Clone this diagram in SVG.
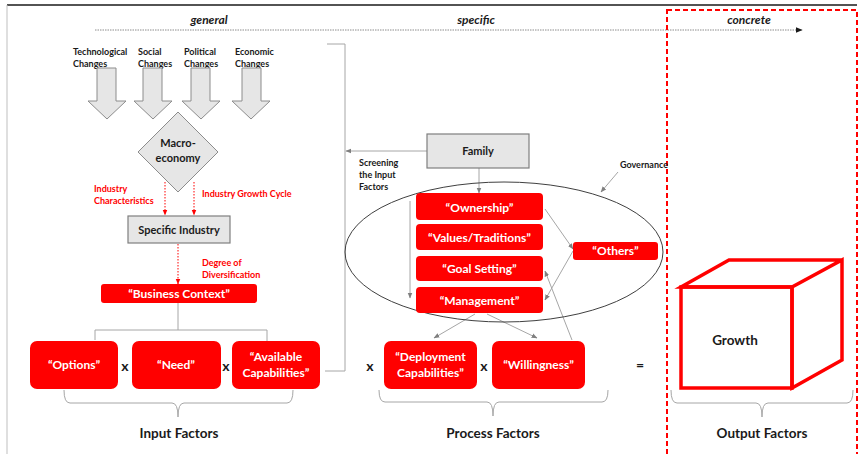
<svg xmlns="http://www.w3.org/2000/svg" width="859" height="454" viewBox="0 0 859 454">
  <style>
    text { font-family: Lato, "Liberation Sans", Arial, sans-serif; font-weight: 700; }
    .lbl { font-size: 9px; fill: #1a1a1a; }
    .red-lbl { font-size: 9px; fill: #ff0000; }
    .hdr { font-size: 12px; font-style: italic; fill: #1a1a1a; text-anchor: middle; }
    .wt { font-size: 12px; fill: #ffffff; text-anchor: middle; }
    .blk { font-size: 11px; fill: #1a1a1a; text-anchor: middle; }
    .big { font-size: 13.5px; fill: #1a1a1a; text-anchor: middle; }
    .op { font-size: 14px; fill: #1a1a1a; text-anchor: middle; }
    .redbox { fill: #ff0000; }
    .graybox { fill: #e6e6e6; stroke: #7f7f7f; stroke-width: 1.2; }
    .blockarrow { fill: #e6e6e6; stroke: #8c8c8c; stroke-width: 1; }
    .conn { fill: none; stroke: #a6a6a6; stroke-width: 1; }
    .reddot { fill: none; stroke: #ff0000; stroke-width: 1; stroke-dasharray: 1.5 1.5; }
    .brace { fill: none; stroke: #a6a6a6; stroke-width: 1; }
  </style>
  <defs>
    <marker id="ah-gray" viewBox="0 0 10 10" refX="9" refY="5" markerWidth="6" markerHeight="6" orient="auto">
      <path d="M0,1 L10,5 L0,9 Z" fill="#7f7f7f"/>
    </marker>
    <marker id="ah-red" viewBox="0 0 10 10" refX="9" refY="5" markerWidth="6" markerHeight="6" orient="auto">
      <path d="M0,1 L10,5 L0,9 Z" fill="#ff0000"/>
    </marker>
    <marker id="ah-black" viewBox="0 0 10 10" refX="9" refY="5" markerWidth="7" markerHeight="7" orient="auto">
      <path d="M0,1 L10,5 L0,9 Z" fill="#1a1a1a"/>
    </marker>
  </defs>

  <rect width="859" height="454" fill="#ffffff"/>

  <!-- frame -->
  <line x1="7" y1="5" x2="857" y2="5" stroke="#1a1a1a" stroke-width="1.5"/>
  <line x1="7" y1="5" x2="7" y2="454" stroke="#bfbfbf" stroke-width="1"/>

  <!-- abstraction axis -->
  <g id="axis">
    <line x1="95" y1="30" x2="802" y2="30" stroke="#8c8c8c" stroke-width="1" stroke-dasharray="1.5 1" marker-end="url(#ah-black)"/>
    <text class="hdr" x="209" y="24">general</text>
    <text class="hdr" x="476" y="24">specific</text>
    <text class="hdr" x="749" y="24">concrete</text>
  </g>

  <!-- output area -->
  <rect x="667" y="10" width="190" height="452" fill="none" stroke="#ff0000" stroke-width="2" stroke-dasharray="5 3"/>

  <!-- connectors -->
  <g id="connectors">
    <!-- macro influences -->
    <line class="reddot" x1="165" y1="182" x2="165" y2="215" marker-end="url(#ah-red)"/>
    <line class="reddot" x1="194" y1="182" x2="194" y2="215" marker-end="url(#ah-red)"/>
    <line class="reddot" x1="178" y1="244" x2="178" y2="284" marker-end="url(#ah-red)"/>
    <!-- business context to input factors -->
    <path class="conn" d="M178,303 V330 M95,340 V330 H267 V345"/>
    <!-- screening loop -->
    <path class="conn" d="M325,371 H345 V44 H327"/>
    <line class="conn" x1="427" y1="151" x2="346" y2="151" marker-end="url(#ah-gray)"/>
    <!-- family into governance -->
    <line class="conn" x1="479" y1="168" x2="479" y2="193" marker-end="url(#ah-gray)"/>
    <line class="conn" x1="618" y1="172" x2="601" y2="192" marker-end="url(#ah-gray)"/>
    <line class="conn" x1="410" y1="201" x2="410" y2="298" marker-end="url(#ah-gray)"/>
    <!-- internal relations -->
    <line class="conn" x1="545" y1="209" x2="573" y2="249" marker-end="url(#ah-gray)"/>
    <line class="conn" x1="573" y1="251" x2="545" y2="300" marker-end="url(#ah-gray)"/>
    <line class="conn" x1="572" y1="340" x2="545" y2="271" marker-end="url(#ah-gray)"/>
    <line class="conn" x1="475" y1="314" x2="434" y2="338" marker-end="url(#ah-gray)"/>
    <line class="conn" x1="487" y1="314" x2="537" y2="338" marker-end="url(#ah-gray)"/>
  </g>

  <!-- environmental changes -->
  <g id="technological-changes">
    <text class="lbl" x="73" y="55">Technological</text>
    <text class="lbl" x="73" y="67">Changes</text>
    <path class="blockarrow" d="M97,68 H116 V101 H126 L107,119 L88,101 H97 Z"/>
  </g>
  <g id="social-changes">
    <text class="lbl" x="138" y="55">Social</text>
    <text class="lbl" x="138" y="67">Changes</text>
    <path class="blockarrow" d="M143,68 H162 V101 H172 L153,119 L134,101 H143 Z"/>
  </g>
  <g id="political-changes">
    <text class="lbl" x="184" y="55">Political</text>
    <text class="lbl" x="184" y="67">Changes</text>
    <path class="blockarrow" d="M191,68 H210 V101 H220 L201,119 L182,101 H191 Z"/>
  </g>
  <g id="economic-changes">
    <text class="lbl" x="235" y="55">Economic</text>
    <text class="lbl" x="235" y="67">Changes</text>
    <path class="blockarrow" d="M242,68 H261 V101 H270 L251,119 L232,101 H242 Z"/>
  </g>

  <g id="macroeconomy">
    <path class="blockarrow" d="M178,112 L218,152 L178,192 L138,152 Z"/>
    <text class="blk" x="178" y="147">Macro-</text>
    <text class="blk" x="178" y="162">economy</text>
  </g>

  <g id="industry-labels">
    <text class="red-lbl" x="94" y="192">Industry</text>
    <text class="red-lbl" x="94" y="204">Characteristics</text>
    <text class="red-lbl" x="202" y="197">Industry Growth Cycle</text>
    <text class="red-lbl" x="202" y="266">Degree of</text>
    <text class="red-lbl" x="202" y="278">Diversification</text>
  </g>

  <g id="specific-industry">
    <rect class="graybox" x="128" y="216" width="102" height="27"/>
    <text class="blk" x="179" y="234">Specific Industry</text>
  </g>

  <g id="business-context">
    <rect class="redbox" x="101" y="284" width="156" height="19" rx="3"/>
    <text class="wt" x="179" y="298">“Business Context”</text>
  </g>

  <!-- input factors -->
  <g id="options">
    <rect class="redbox" x="30" y="341" width="88" height="48" rx="7"/>
    <text class="wt" x="74" y="369">“Options”</text>
  </g>
  <g id="need">
    <rect class="redbox" x="132" y="341" width="89" height="48" rx="7"/>
    <text class="wt" x="176" y="369">“Need”</text>
  </g>
  <g id="available-capabilities">
    <rect class="redbox" x="232" y="341" width="88" height="48" rx="7"/>
    <text class="wt" x="276" y="361">“Available</text>
    <text class="wt" x="276" y="377">Capabilities”</text>
  </g>
  <g id="input-operators">
    <text class="op" x="125" y="371">x</text>
    <text class="op" x="226" y="371">x</text>
  </g>
  <g id="input-factors">
    <path class="brace" d="M64,390 Q64,403 70,403 H172 Q178,403 178,417 Q178,403 184,403 H287 Q293,403 293,390"/>
    <text class="big" x="179" y="438">Input Factors</text>
  </g>

  <!-- process side -->
  <g id="screening">
    <text class="lbl" x="359" y="166">Screening</text>
    <text class="lbl" x="359" y="178">the Input</text>
    <text class="lbl" x="359" y="190">Factors</text>
  </g>

  <g id="family">
    <rect class="graybox" x="427" y="134" width="102" height="34"/>
    <text class="blk" x="478" y="155">Family</text>
  </g>

  <g id="governance">
    <ellipse cx="504" cy="252" rx="159" ry="70" fill="none" stroke="#404040" stroke-width="1"/>
    <text class="lbl" x="620" y="168">Governance</text>
  </g>

  <g id="ownership">
    <rect class="redbox" x="416" y="193" width="127" height="27" rx="4"/>
    <text class="wt" x="479.5" y="212">“Ownership”</text>
  </g>
  <g id="values-traditions">
    <rect class="redbox" x="416" y="224" width="127" height="26" rx="4"/>
    <text class="wt" x="479.5" y="242">“Values/Traditions”</text>
  </g>
  <g id="goal-setting">
    <rect class="redbox" x="416" y="256" width="127" height="25" rx="4"/>
    <text class="wt" x="479.5" y="273">“Goal Setting”</text>
  </g>
  <g id="management">
    <rect class="redbox" x="416" y="287" width="127" height="26" rx="4"/>
    <text class="wt" x="479.5" y="305">“Management”</text>
  </g>
  <g id="others">
    <rect class="redbox" x="573" y="242" width="85" height="18" rx="3"/>
    <text class="wt" x="615.5" y="255">“Others”</text>
  </g>

  <g id="deployment-capabilities">
    <rect class="redbox" x="384" y="341" width="93" height="48" rx="7"/>
    <text class="wt" x="430.5" y="361">“Deployment</text>
    <text class="wt" x="430.5" y="377">Capabilities”</text>
  </g>
  <g id="willingness">
    <rect class="redbox" x="492" y="341" width="93" height="48" rx="7"/>
    <text class="wt" x="538.5" y="369">“Willingness”</text>
  </g>
  <g id="process-operators">
    <text class="op" x="370" y="371">x</text>
    <text class="op" x="484" y="371">x</text>
    <text class="op" x="640" y="370">=</text>
  </g>
  <g id="process-factors">
    <path class="brace" d="M379,390 Q379,402 385,402 H487 Q493,402 493,416 Q493,402 499,402 H602 Q608,402 608,390"/>
    <text class="big" x="493" y="438">Process Factors</text>
  </g>

  <!-- output -->
  <g id="growth">
    <path d="M681,287 L729,260 H842 L792,287 Z M792,287 L842,260 V360 L792,388 Z" fill="none" stroke="#ff0000" stroke-width="3.5" stroke-linejoin="miter"/>
    <rect x="681" y="287" width="111" height="101" fill="none" stroke="#ff0000" stroke-width="3.5"/>
    <text class="big" x="735" y="345">Growth</text>
  </g>
  <g id="output-factors">
    <path class="brace" d="M671,390 Q671,403 677,403 H756 Q762,403 762,417 Q762,403 768,403 H847 Q853,403 853,390"/>
    <text class="big" x="762" y="438">Output Factors</text>
  </g>
</svg>
